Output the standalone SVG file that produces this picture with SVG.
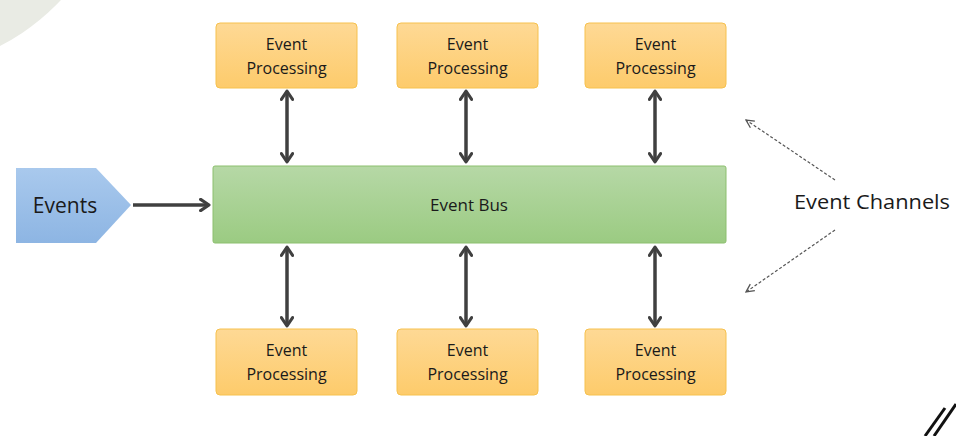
<svg xmlns="http://www.w3.org/2000/svg" width="956" height="436" viewBox="0 0 956 436">
<defs>
<linearGradient id="gO" x1="0" y1="0" x2="0" y2="1"><stop offset="0" stop-color="#fed995"/><stop offset="1" stop-color="#fdcb6b"/></linearGradient>
<linearGradient id="gG" x1="0" y1="0" x2="0" y2="1"><stop offset="0" stop-color="#b6d8a6"/><stop offset="1" stop-color="#9bcb82"/></linearGradient>
<linearGradient id="gB" x1="0" y1="0" x2="0" y2="1"><stop offset="0" stop-color="#a9c9ed"/><stop offset="1" stop-color="#8db5e3"/></linearGradient>
<marker id="ah" viewBox="0 0 10 10" refX="8" refY="5" markerWidth="4" markerHeight="4" orient="auto-start-reverse" markerUnits="strokeWidth"><path d="M2,1 L8,5 L2,9" fill="none" stroke="#404040" stroke-width="2.2" stroke-linecap="round" stroke-linejoin="round"/></marker>
<marker id="ad" viewBox="0 0 10 10" refX="9" refY="5" markerWidth="10" markerHeight="10" orient="auto" markerUnits="userSpaceOnUse"><path d="M1,1 L9,5 L1,9" fill="none" stroke="#555" stroke-width="1.3"/></marker>
<style>
.proc{fill:url(#gO);stroke:#f6c14e;stroke-width:1}
.t{font-family:"Open Sans","Liberation Sans",sans-serif;fill:#1a1a1a;text-anchor:middle}
.s{font-size:16px}
.c{stroke:#404040;stroke-width:3.5;fill:none;marker-start:url(#ah);marker-end:url(#ah)}
.d{stroke:#555;stroke-width:1.2;stroke-dasharray:3,2;fill:none;marker-end:url(#ad)}
</style>
</defs>
<rect width="956" height="436" fill="#fff"/>
<circle cx="-100" cy="-150" r="220" fill="#e9ebe4"/>
<g id="events"><path d="M16,168 H96 L131,205 L96,243 H16 Z" fill="url(#gB)"/><text class="t" x="65" y="213" font-size="21">Events</text></g>
<g id="bus"><rect x="213" y="166" width="513" height="77" rx="2" fill="url(#gG)" stroke="#8cbf6e"/><text class="t" x="469" y="211" font-size="17">Event Bus</text></g>
<g id="p1"><rect class="proc" x="216" y="23" width="141" height="65" rx="4"/><text class="t s" x="286.5" y="50">Event</text><text class="t s" x="286.5" y="74">Processing</text></g>
<g id="p2"><rect class="proc" x="397" y="23" width="141" height="65" rx="4"/><text class="t s" x="467.5" y="50">Event</text><text class="t s" x="467.5" y="74">Processing</text></g>
<g id="p3"><rect class="proc" x="585" y="23" width="141" height="65" rx="4"/><text class="t s" x="655.5" y="50">Event</text><text class="t s" x="655.5" y="74">Processing</text></g>
<g id="p4"><rect class="proc" x="216" y="329" width="141" height="66" rx="4"/><text class="t s" x="286.5" y="356">Event</text><text class="t s" x="286.5" y="380">Processing</text></g>
<g id="p5"><rect class="proc" x="397" y="329" width="141" height="66" rx="4"/><text class="t s" x="467.5" y="356">Event</text><text class="t s" x="467.5" y="380">Processing</text></g>
<g id="p6"><rect class="proc" x="585" y="329" width="141" height="66" rx="4"/><text class="t s" x="655.5" y="356">Event</text><text class="t s" x="655.5" y="380">Processing</text></g>
<g id="label"><text x="794" y="209" font-family="'Open Sans','Liberation Sans',sans-serif" font-size="20" fill="#1a1a1a" textLength="156" lengthAdjust="spacingAndGlyphs">Event Channels</text></g>
<g id="connectors">
<path d="M133,205 H209" stroke="#404040" stroke-width="3.5" fill="none" marker-end="url(#ah)"/>
<path class="c" d="M287,91 V162"/>
<path class="c" d="M466,91 V162"/>
<path class="c" d="M655,91 V162"/>
<path class="c" d="M287,247 V326"/>
<path class="c" d="M466,247 V326"/>
<path class="c" d="M655,247 V326"/>
<path class="d" d="M835,180 L746,120"/>
<path class="d" d="M835,230 L746,292"/>
</g>
<g id="slashes" stroke="#111" stroke-width="3"><line x1="925" y1="436" x2="945" y2="408"/><line x1="934" y1="436" x2="956" y2="404"/></g>
</svg>
